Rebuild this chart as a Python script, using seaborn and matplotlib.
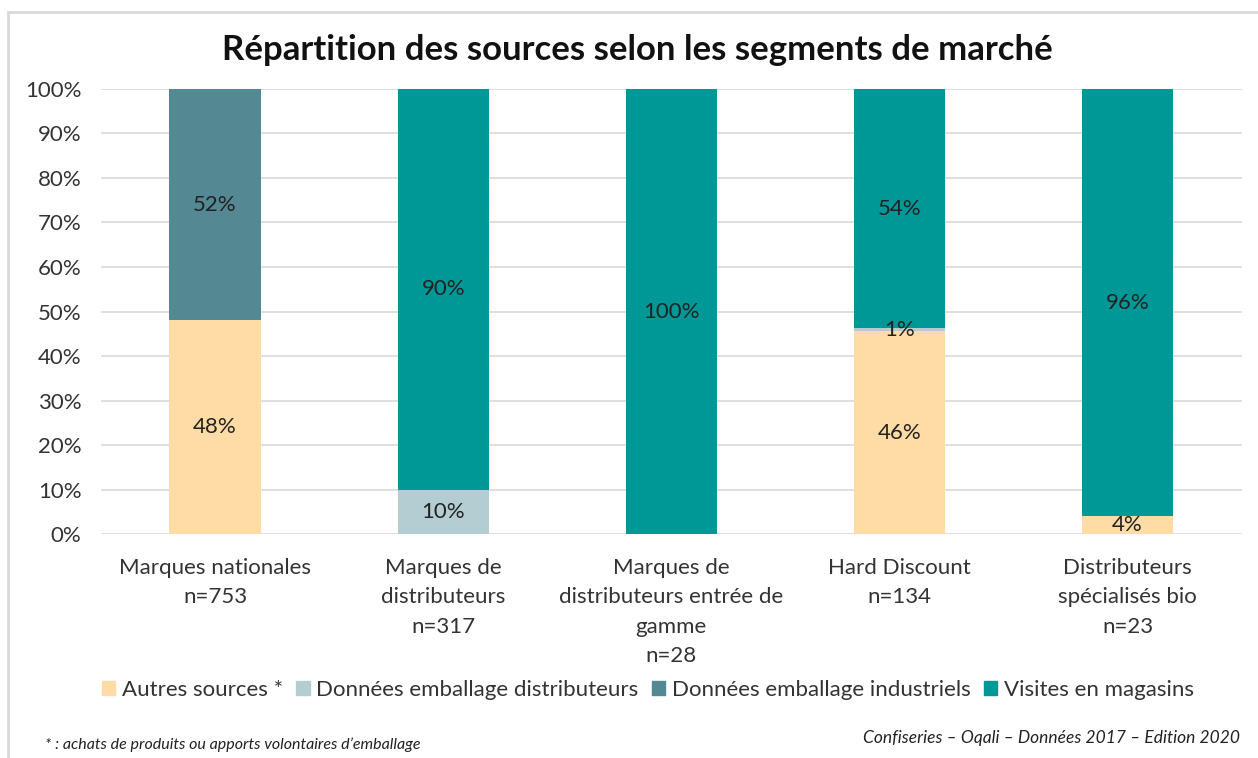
import pandas as pd
import matplotlib.pyplot as plt
import seaborn as sns
from matplotlib.patches import Rectangle

# Données
segments = ["Marques nationales\nn=753",
            "Marques de\ndistributeurs\nn=317",
            "Marques de\ndistributeurs entrée de\ngamme\nn=28",
            "Hard Discount\nn=134",
            "Distributeurs\nspécialisés bio\nn=23"]
autres_sources = [48, 0, 0, 45.6, 4]
emballage_distributeurs = [0, 10, 0, 0.6, 0]
emballage_industriels = [52, 0, 0, 0, 0]
visites_magasins = [0, 90, 100, 53.8, 96]

series = ["Autres sources *", "Données emballage distributeurs",
          "Données emballage industriels", "Visites en magasins"]
colors = ["#FFDBA6", "#B4CDD3", "#548892", "#009797"]

df = pd.DataFrame({
    "segment": segments,
    series[0]: autres_sources,
    series[1]: emballage_distributeurs,
    series[2]: emballage_industriels,
    series[3]: visites_magasins,
})

sns.set_theme(style="white")
plt.rcParams['font.family'] = ['Lato', 'DejaVu Sans']

fig = plt.figure(figsize=(12.58, 7.58), dpi=100)
ax = fig.add_axes([0.0803, 0.2955, 0.9067, 0.5871])

# Cadre gris autour du graphique
fig.patches.append(Rectangle((8 / 1258, -0.1), 1.2, 0.1 + 1 - 12 / 758, transform=fig.transFigure,
                             fill=False, edgecolor="#D9D9D9", linewidth=2))

# Empilement : cumul des séries, dessin du plus haut au plus bas
cumul = df[series].cumsum(axis=1)
for i in range(len(series) - 1, -1, -1):
    sns.barplot(x=df["segment"], y=cumul[series[i]], color=colors[i], width=0.4,
                saturation=1, linewidth=0, ax=ax, zorder=2)

# Étiquettes des valeurs
for j in range(len(segments)):
    bas = 0
    for s in series:
        v = df[s][j]
        if v > 0:
            ax.text(j, bas + v / 2, "{:.0f}%".format(v), ha='center', va='center',
                    fontsize=16, color="#222222", zorder=3)
        bas += v

ax.set_ylim(0, 100)
ax.set_xlim(-0.5, 4.5)
ax.set_yticks(range(0, 101, 10))
ax.set_yticklabels(["{}%".format(t) for t in range(0, 101, 10)], fontsize=16, color="#333333")
ax.tick_params(axis='x', labelsize=16, colors="#333333", pad=17)
for lab in ax.get_xticklabels():
    lab.set_linespacing(1.6)
ax.set_xlabel("")
ax.set_ylabel("")
ax.yaxis.grid(True, color="#D9D9D9", linewidth=1.2, zorder=0)
ax.set_axisbelow(True)
for spine in ax.spines.values():
    spine.set_visible(False)
ax.tick_params(axis='y', pad=14, length=0)
ax.tick_params(axis='x', length=0)

fig.text(0.507, 0.934, "Répartition des sources selon les segments de marché",
         ha='center', va='center', fontsize=25, fontweight='bold', color="#111111")

handles = [Rectangle((0, 0), 1, 1, color=c) for c in colors]
fig.legend(handles, series, loc='center', bbox_to_anchor=(0.515, 0.09), ncol=4,
           frameon=False, fontsize=16, handlelength=0.6, handleheight=0.6,
           handletextpad=0.3, columnspacing=0.6, labelcolor="#333333")

fig.text(45 / 1258, 1 - 745 / 758, "* : achats de produits ou apports volontaires d\u2019emballage",
         fontsize=11.5, style='italic', ha='left', va='center', color="#222222")
fig.text(1240 / 1258, 1 - 738 / 758, "Confiseries \u2013 Oqali \u2013 Données 2017 \u2013 Edition 2020",
         fontsize=12.5, style='italic', ha='right', va='center', color="#222222")

fig.savefig("out.png", dpi=100)
